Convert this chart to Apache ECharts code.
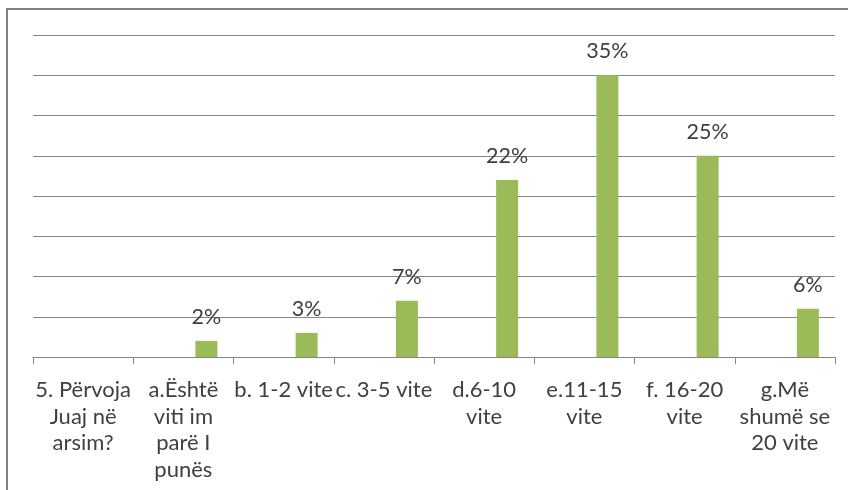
<!DOCTYPE html>
<html>
<head>
<meta charset="utf-8">
<script src="https://cdn.jsdelivr.net/npm/echarts@6/dist/echarts.min.js"></script>
<style>
  html, body { margin: 0; padding: 0; background: #fff; }
  #chart { width: 848px; height: 490px; }
</style>
</head>
<body>
<div id="chart"></div>
<script>
// Survey answers: teaching experience in education
const categories = [
  '5. Përvoja\nJuaj në\narsim?',
  'a.Është\nviti im\nparë I\npunës',
  'b. 1-2 vite',
  'c. 3-5 vite',
  'd.6-10\nvite',
  'e.11-15\nvite',
  'f. 16-20\nvite',
  'g.Më\nshumë se\n20 vite'
];
// question-row series has no values; answers series holds the percentages
const questionValues = ['-', '-', '-', '-', '-', '-', '-', '-'];
const answerValues = ['-', 2, 3, 7, 22, 35, 25, 6];

const chart = echarts.init(document.getElementById('chart'));
const textColor = '#404040';
const font = 'Lato, "Open Sans", sans-serif';

chart.setOption({
  animation: false,
  backgroundColor: '#ffffff',
  graphic: [{
    type: 'rect',
    shape: { x: 7, y: 9, width: 860, height: 500 },
    style: { fill: 'none', stroke: '#7f7f7f', lineWidth: 2 },
    silent: true
  }],
  grid: { left: 33, right: 13, top: 35, bottom: 133, containLabel: false },
  xAxis: {
    type: 'category',
    data: categories,
    axisLine: { lineStyle: { color: '#868686', width: 1 } },
    axisTick: { show: true, length: 7, lineStyle: { color: '#868686' } },
    axisLabel: {
      interval: 0,
      color: textColor,
      fontFamily: font,
      fontSize: 22,
      lineHeight: 26.5,
      margin: 20,
      align: 'center'
    }
  },
  yAxis: {
    type: 'value',
    min: 0,
    max: 40,
    interval: 5,
    axisLine: { show: false },
    axisTick: { show: false },
    axisLabel: { show: false },
    splitLine: { lineStyle: { color: '#868686', width: 1 } }
  },
  series: [
    {
      name: 'Pyetja',
      type: 'bar',
      data: questionValues,
      barWidth: 22,
      barGap: '109%',
      itemStyle: { color: '#4f81bd' }
    },
    {
      name: 'Përgjigjet',
      type: 'bar',
      data: answerValues,
      barWidth: 22,
      barGap: '109%',
      itemStyle: { color: '#9bbb59' },
      label: {
        show: true,
        position: 'top',
        distance: 13,
        color: textColor,
        fontFamily: font,
        fontSize: 21.5,
        formatter: p => p.value + '%'
      }
    }
  ]
});
</script>
</body>
</html>
